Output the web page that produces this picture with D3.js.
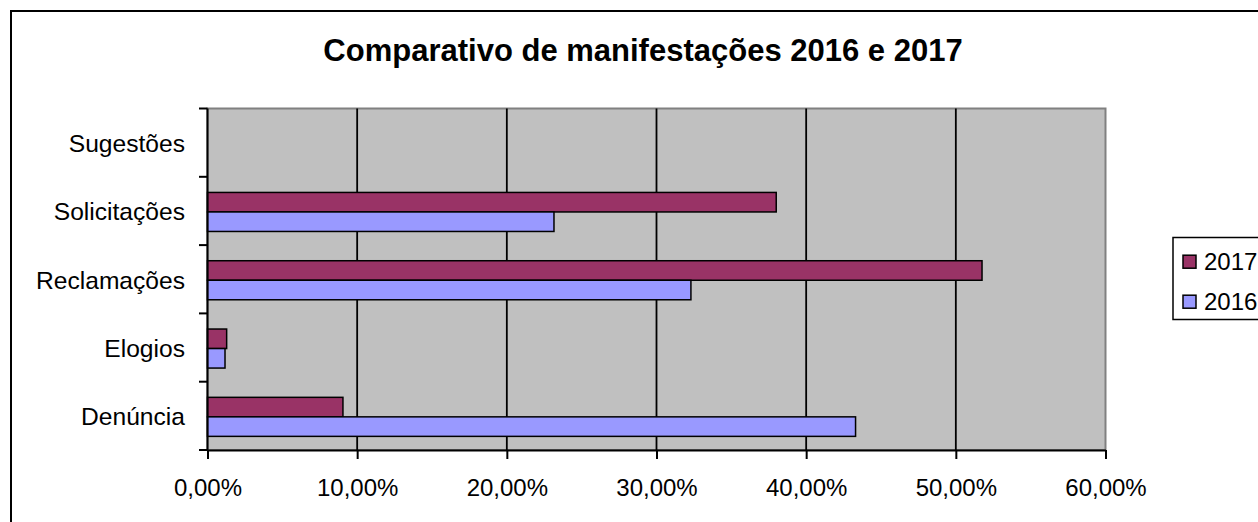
<!DOCTYPE html>
<html>
<head>
<meta charset="utf-8">
<script src="https://cdn.jsdelivr.net/npm/d3@7"></script>
<style>
  html, body { margin: 0; padding: 0; background: #fff; }
  svg { display: block; font-family: Arial, "Liberation Sans", sans-serif; }
</style>
</head>
<body>
<svg id="chart" width="1258" height="522"></svg>
<script>
// ---- data ----
const title = "Comparativo de manifestações 2016 e 2017";
const categories = ["Denúncia", "Elogios", "Reclamações", "Solicitações", "Sugestões"];
const seriesNames = ["2017", "2016"];
const values2017 = [0.0905, 0.0128, 0.5175, 0.380, 0];
const values2016 = [0.433, 0.0117, 0.323, 0.2315, 0];
const xTicks = [0, 0.1, 0.2, 0.3, 0.4, 0.5, 0.6];
const colors = { "2017": "#993366", "2016": "#9999FF" };

// ---- layout ----
const svg = d3.select("#chart");
const W = 1258, H = 522;
const plot = { left: 207.5, top: 108.5, right: 1105.5, bottom: 450 };

const locale = d3.formatLocale({ decimal: ",", thousands: ".", grouping: [3], currency: ["R$", ""] });
const fmt = locale.format(".2%");

const x = d3.scaleLinear().domain([0, 0.6]).range([plot.left, plot.right]);
const y = d3.scaleBand().domain(categories.slice().reverse()).range([plot.top, plot.bottom]).padding(0);
const ySeries = d3.scaleBand().domain(seriesNames).range([0, y.bandwidth()]).paddingInner(0).paddingOuter(0.75);

// outer frame (left/top visible)
svg.append("path")
  .attr("d", `M11,${H + 5} V11 H${W + 5}`)
  .attr("fill", "none").attr("stroke", "#000").attr("stroke-width", 2);

// title
svg.append("text")
  .attr("x", 643).attr("y", 61)
  .attr("text-anchor", "middle")
  .attr("font-size", 31).attr("font-weight", "bold")
  .text(title);

// plot background
svg.append("rect")
  .attr("x", plot.left).attr("y", plot.top)
  .attr("width", plot.right - plot.left).attr("height", plot.bottom - plot.top)
  .attr("fill", "#C0C0C0").attr("stroke", "#808080").attr("stroke-width", 2);

// gridlines
svg.append("g").selectAll("line")
  .data(xTicks.filter(d => d > 0 && d < 0.6))
  .join("line")
  .attr("x1", d => x(d)).attr("x2", d => x(d))
  .attr("y1", plot.top).attr("y2", plot.bottom)
  .attr("stroke", "#000").attr("stroke-width", 1.8);

// bars
const rows = categories.map((c, i) => ({ cat: c, "2017": values2017[i], "2016": values2016[i] }));
const barG = svg.append("g").attr("transform", "translate(0,1)");
rows.forEach(r => {
  seriesNames.forEach(s => {
    if (r[s] > 0) {
      barG.append("rect")
        .attr("x", x(0))
        .attr("y", y(r.cat) + ySeries(s))
        .attr("width", x(r[s]) - x(0))
        .attr("height", ySeries.bandwidth())
        .attr("fill", colors[s])
        .attr("stroke", "#000").attr("stroke-width", 1.5);
    }
  });
});

// x axis
const xAxis = d3.axisBottom(x).tickValues(xTicks).tickFormat(fmt).tickSizeInner(9).tickSizeOuter(0).tickPadding(10);
const gx = svg.append("g").attr("transform", `translate(0,${plot.bottom})`).call(xAxis);
gx.select(".domain").attr("stroke", "#000").attr("stroke-width", 2);
gx.selectAll(".tick line").attr("stroke", "#000").attr("stroke-width", 2);
gx.selectAll(".tick text").attr("font-size", 24).attr("fill", "#000")
  .attr("font-family", "Arial, 'Liberation Sans', sans-serif")
  .attr("dy", null).attr("y", 46);

// y axis
const yTickPos = d3.range(categories.length + 1).map(i => plot.top + i * y.step());
const gy = svg.append("g");
gy.append("line")
  .attr("x1", plot.left).attr("x2", plot.left)
  .attr("y1", plot.top).attr("y2", plot.bottom)
  .attr("stroke", "#000").attr("stroke-width", 2);
gy.selectAll("line.tk").data(yTickPos).join("line").attr("class", "tk")
  .attr("x1", plot.left - 8.5).attr("x2", plot.left)
  .attr("y1", d => d).attr("y2", d => d)
  .attr("stroke", "#000").attr("stroke-width", 2);
gy.selectAll("text").data(categories).join("text")
  .attr("x", 185)
  .attr("y", d => y(d) + y.bandwidth() / 2 + 9.5)
  .attr("text-anchor", "end")
  .attr("font-size", 24.6)
  .text(d => d);

// legend
const lg = svg.append("g");
lg.append("path")
  .attr("d", `M${W + 5},237.5 H1173 V319.5 H${W + 5}`)
  .attr("fill", "#fff").attr("stroke", "#000").attr("stroke-width", 1.5);
seriesNames.forEach((s, i) => {
  const cy = 261.7 + i * 40;
  lg.append("rect")
    .attr("x", 1183).attr("y", cy - 6.5)
    .attr("width", 13).attr("height", 13)
    .attr("fill", colors[s]).attr("stroke", "#000").attr("stroke-width", 1.5);
  lg.append("text")
    .attr("x", 1204).attr("y", cy + 8.5)
    .attr("font-size", 24)
    .text(s);
});
</script>
</body>
</html>
